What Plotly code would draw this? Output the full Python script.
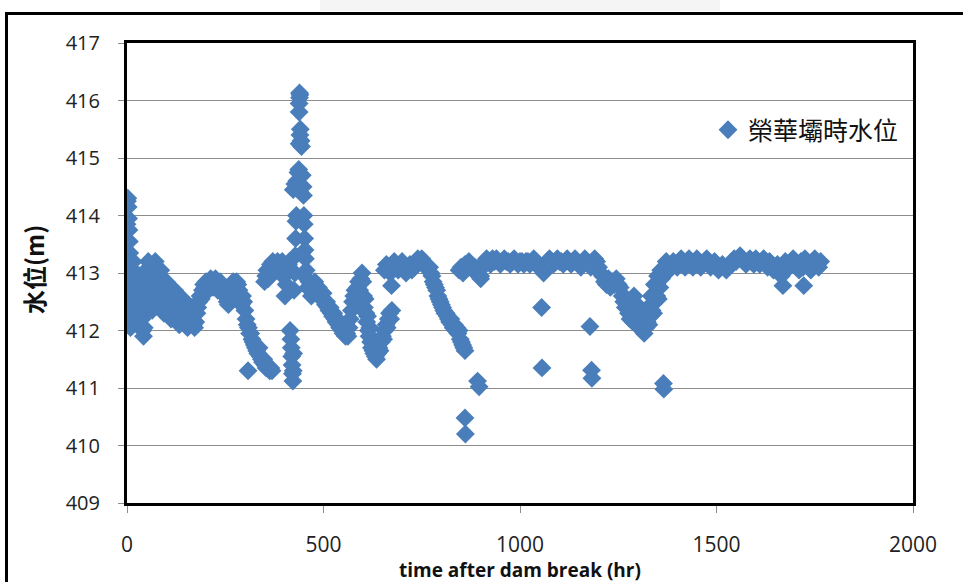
import plotly.graph_objects as go

# 榮華壩 water level after the dam break, read as (hour, level in m) groups
rise_t = [0, 1, 2, 3, 4, 5, 6, 7, 8, 9, 10, 11, 12, 13, 14, 15, 16, 18, 20, 22, 24, 26, 28, 30,
          32, 34, 36, 38, 40, 42, 44, 46, 48, 50, 52, 54, 56, 58, 60, 3, 6, 9]
rise_h = [413.85, 414.25, 414.3, 414.15, 413.95, 413.75, 413.55, 413.35, 413.1, 412.85, 412.6,
          412.4, 412.25, 412.45, 412.75, 413.0, 413.2, 412.9, 412.6, 412.35, 412.15, 412.3, 412.6,
          412.85, 412.95, 412.7, 412.45, 412.2, 412.0, 411.9, 412.05, 412.3, 412.55, 412.8, 413.05,
          413.2, 413.1, 412.9, 412.7, 412.8, 412.3, 412.05]

early_t = [62, 64, 66, 68, 70, 72, 74, 76, 78, 80, 82, 84, 86, 88, 90, 92, 94, 96, 98, 100, 103,
           106, 109, 112, 115, 118, 121, 124, 127, 130, 133, 136, 139, 142, 145, 148, 151, 154, 157,
           160, 163, 166, 169, 172, 175, 178]
early_h = [412.5, 412.35, 412.6, 412.9, 413.15, 413.2, 413.05, 412.85, 412.6, 412.45, 412.7, 412.95,
           413.05, 412.9, 412.65, 412.45, 412.3, 412.5, 412.75, 412.85, 412.7, 412.5, 412.3, 412.2,
           412.4, 412.6, 412.7, 412.55, 412.35, 412.2, 412.1, 412.3, 412.5, 412.55, 412.4, 412.2,
           412.1, 412.05, 412.15, 412.3, 412.4, 412.25, 412.1, 412.05, 412.15, 412.3]

shelf_t = [180, 183, 186, 189, 192, 195, 198, 201, 204, 207, 210, 213, 216, 219, 222, 225, 228, 231,
           234, 237, 240, 243, 246, 249, 252, 255, 258, 261, 264, 267, 270, 273, 276, 279, 282, 285,
           288, 291, 294, 297, 300]
shelf_h = [412.4, 412.5, 412.6, 412.55, 412.7, 412.8, 412.75, 412.85, 412.8, 412.7, 412.85, 412.9,
           412.8, 412.75, 412.85, 412.9, 412.8, 412.7, 412.8, 412.85, 412.75, 412.7, 412.65, 412.6,
           412.6, 412.5, 412.45, 412.55, 412.7, 412.75, 412.85, 412.8, 412.65, 412.85, 412.8, 412.7,
           412.55, 412.45, 412.6, 412.5, 412.35]

recess_t = [303, 306, 309, 312, 315, 318, 321, 324, 327, 330, 333, 336, 339, 342, 345, 348, 351,
            354, 357, 360, 363, 366, 369]
recess_h = [412.2, 412.1, 412.05, 411.95, 411.95, 411.85, 411.8, 411.75, 411.7, 411.65, 411.6,
            411.7, 411.55, 411.5, 411.45, 411.5, 411.4, 411.35, 411.4, 411.35, 411.3, 411.35, 411.3]

upper_t = [350, 353, 356, 359, 362, 365, 368, 371, 374, 377, 380, 383, 386, 389, 392, 395, 398,
           402, 405, 408, 411, 414]
upper_h = [412.85, 412.95, 413.05, 412.9, 413.0, 413.15, 413.1, 413.2, 413.15, 413.05, 413.15,
           413.2, 413.1, 413.0, 413.15, 413.2, 413.1, 412.6, 412.8, 413.0, 413.15, 413.2]

spike_t = [415, 417, 418, 419, 420, 421, 422, 423, 424, 425, 427, 428, 429, 430, 431, 423, 427,
           432, 435, 437, 438, 440, 441, 438, 438, 439, 439, 440, 443, 444, 446, 448, 449, 450,
           451, 452, 453, 454, 456, 458]
spike_h = [412.0, 411.85, 411.7, 411.55, 411.4, 411.25, 411.12, 411.3, 411.6, 412.7, 413.0, 413.3,
           413.6, 413.9, 414.0, 414.45, 414.55, 414.6, 414.75, 414.8, 415.25, 415.4, 415.5, 415.8,
           415.95, 416.05, 416.13, 416.1, 415.3, 415.2, 414.7, 414.5, 414.35, 414.0, 413.85,
           413.6, 413.4, 413.25, 413.05, 412.9]

decline_t = [460, 463, 466, 469, 472, 475, 478, 481, 484, 487, 490, 493, 496, 499, 502, 505, 508,
             511, 514, 517, 520, 523, 526, 529, 532, 535, 538, 541, 544, 547, 550, 553, 556, 559,
             562]
decline_h = [412.75, 412.85, 412.7, 412.6, 412.8, 412.75, 412.85, 412.7, 412.65, 412.75, 412.7,
             412.6, 412.55, 412.65, 412.5, 412.45, 412.5, 412.4, 412.35, 412.4, 412.3, 412.25,
             412.3, 412.2, 412.15, 412.2, 412.1, 412.05, 412.1, 412.0, 411.95, 412.0, 411.9,
             411.95, 411.9]

swing_t = [565, 568, 571, 574, 577, 580, 583, 586, 589, 592, 595, 598, 600, 602, 604, 606, 608,
           610, 612, 614, 616, 618, 620, 622, 624, 626, 628, 630, 632, 635, 638, 641, 644, 647,
           650, 653, 656, 659, 662, 665, 668, 671, 674]
swing_h = [412.05, 412.2, 412.35, 412.5, 412.6, 412.7, 412.55, 412.75, 412.85, 412.7, 412.9, 413.0,
           412.85, 412.6, 412.4, 412.55, 412.3, 412.15, 412.25, 412.0, 411.9, 412.05, 411.8, 411.7,
           411.85, 411.65, 411.6, 411.7, 411.55, 411.5, 411.6, 411.7, 411.65, 411.8, 411.9,
           411.85, 412.0, 412.1, 412.05, 412.2, 412.3, 412.2, 412.35]

mid_t = [655, 660, 665, 670, 675, 680, 685, 690, 695, 700, 705, 710, 715, 720, 725, 730, 735,
         740, 745, 750, 755, 760]
mid_h = [413.05, 413.15, 413.1, 413.0, 413.15, 413.2, 413.1, 413.05, 413.15, 413.2, 413.1, 413.0,
         413.1, 413.15, 413.05, 413.1, 413.2, 413.25, 413.2, 413.25, 413.15, 413.1]

fall_t = [770, 773, 776, 779, 782, 785, 788, 791, 794, 797, 800, 803, 806, 809, 812, 815, 818,
          821, 824, 827, 830, 833, 836, 839, 842, 845, 848, 851, 854, 857, 860]
fall_h = [413.1, 413.0, 412.95, 412.85, 412.8, 412.75, 412.7, 412.6, 412.55, 412.5, 412.45, 412.4,
          412.35, 412.3, 412.3, 412.25, 412.2, 412.15, 412.2, 412.1, 412.05, 412.1, 412.0, 412.05,
          411.95, 412.0, 411.85, 411.8, 411.75, 411.7, 411.65]

plateau1_t = [845, 850, 855, 860, 865, 870, 875, 880, 885, 890, 895, 900, 905, 910, 915, 920, 925,
              930, 935, 940, 945, 950, 955, 960, 965, 970, 975, 980, 985, 990, 995, 1000, 1005,
              1010, 1015, 1020, 1025, 1030, 1035, 1040, 1045, 1050, 1055, 1060, 1065, 1070, 1075,
              1080, 1085, 1090, 1095, 1100, 1105, 1110, 1115, 1120, 1125, 1130, 1135, 1140, 1145,
              1150, 1155, 1160, 1165, 1170, 1175, 1180, 1185, 1190, 1195, 1200, 1205, 1210, 1215,
              1220, 1225, 1230, 1235, 1240, 1245, 1250]
plateau1_h = [413.05, 413.1, 413.0, 413.15, 413.1, 413.2, 413.15, 413.05, 413.1, 413.0, 413.05,
              412.95, 413.1, 413.2, 413.25, 413.2, 413.15, 413.25, 413.2, 413.25, 413.2, 413.15,
              413.2, 413.25, 413.2, 413.2, 413.15, 413.2, 413.25, 413.2, 413.15, 413.2, 413.2,
              413.15, 413.2, 413.2, 413.15, 413.2, 413.25, 413.2, 413.15, 413.1, 413.05, 413.0,
              413.1, 413.2, 413.25, 413.2, 413.15, 413.2, 413.25, 413.2, 413.2, 413.15, 413.2,
              413.25, 413.2, 413.15, 413.2, 413.25, 413.2, 413.15, 413.1, 413.2, 413.25, 413.2,
              413.15, 413.1, 413.2, 413.25, 413.2, 413.1, 413.0, 412.95, 412.85, 412.8, 412.9,
              412.75, 412.85, 412.8, 412.9, 412.8]

trough_t = [1255, 1260, 1264, 1268, 1272, 1276, 1280, 1284, 1288, 1292, 1296, 1300, 1304, 1308,
            1312, 1316, 1320, 1324, 1328, 1332, 1336, 1340, 1344, 1348, 1352, 1356, 1360, 1364,
            1368, 1372, 1290, 1298, 1306, 1326, 1334, 1342, 1350, 1358]
trough_h = [412.75, 412.6, 412.5, 412.4, 412.55, 412.3, 412.2, 412.4, 412.15, 412.3, 412.1, 412.2,
            412.05, 412.15, 412.0, 411.95, 412.05, 412.15, 412.1, 412.25, 412.35, 412.3, 412.5,
            412.6, 412.55, 412.75, 412.9, 413.0, 413.1, 413.2, 412.6, 412.45, 412.35, 412.4,
            412.6, 412.8, 412.95, 413.05]

plateau2_t = [1375, 1380, 1385, 1390, 1395, 1400, 1405, 1410, 1415, 1420, 1425, 1430, 1435, 1440,
              1445, 1450, 1455, 1460, 1465, 1470, 1475, 1480, 1485, 1490, 1495, 1500, 1505, 1510,
              1515, 1520, 1525, 1530, 1535, 1540, 1545, 1550, 1555, 1560, 1565, 1570, 1575, 1580,
              1585, 1590, 1595, 1600, 1605, 1610, 1615, 1620, 1625, 1630, 1635, 1640, 1645, 1650,
              1655, 1660, 1665, 1670, 1675, 1680, 1685, 1690, 1695, 1700, 1705, 1710, 1715, 1720,
              1725, 1730, 1735, 1740, 1745, 1750, 1755, 1760, 1765]
plateau2_h = [413.15, 413.05, 413.1, 413.2, 413.15, 413.1, 413.2, 413.25, 413.15, 413.1, 413.2,
              413.25, 413.2, 413.1, 413.15, 413.25, 413.2, 413.1, 413.15, 413.2, 413.25, 413.2,
              413.1, 413.15, 413.2, 413.15, 413.05, 413.1, 413.15, 413.1, 413.05, 413.1, 413.15,
              413.2, 413.25, 413.2, 413.25, 413.3, 413.25, 413.2, 413.15, 413.2, 413.25, 413.2,
              413.15, 413.25, 413.2, 413.15, 413.2, 413.25, 413.2, 413.1, 413.2, 413.15, 413.05,
              413.1, 413.15, 413.05, 412.95, 413.1, 413.2, 413.15, 413.1, 413.2, 413.25, 413.15,
              413.1, 413.05, 413.2, 413.1, 413.25, 413.2, 413.1, 413.05, 413.15, 413.25, 413.2,
              413.1, 413.2]

outlier_t = [308, 673, 860, 861, 892, 896, 900, 1055, 1056, 1178, 1182, 1183, 1365, 1366, 1669, 1722]
outlier_h = [411.3, 412.78, 410.48, 410.2, 411.12, 411.02, 412.9, 412.4, 411.35, 412.07, 411.31,
             411.17, 411.08, 410.98, 412.78, 412.78]

groups_t = [rise_t, early_t, shelf_t, recess_t, upper_t, spike_t, decline_t, swing_t, mid_t,
            fall_t, plateau1_t, trough_t, plateau2_t, outlier_t]
groups_h = [rise_h, early_h, shelf_h, recess_h, upper_h, spike_h, decline_h, swing_h, mid_h,
            fall_h, plateau1_h, trough_h, plateau2_h, outlier_h]

hours = [t for g in groups_t for t in g]
levels = [h for g in groups_h for h in g]

x_ticks = [0, 500, 1000, 1500, 2000]
y_ticks = [409, 410, 411, 412, 413, 414, 415, 416, 417]

W, H = 963, 582
L, R, T, B = 127, 50, 43, 79
PW, PH = W - L - R, H - T - B


def px(x):
    return (x - L) / PW


def py(y):
    return (H - B - y) / PH


BLUE = "#4a7ebb"
GRID = "#8c8c8c"

fig = go.Figure()
fig.add_trace(go.Scatter(
    x=hours, y=levels, mode="markers", name="榮華壩時水位",
    marker=dict(symbol="diamond", size=14.5, color=BLUE, line=dict(width=0)),
))

fig.update_layout(
    width=W, height=H,
    margin=dict(l=L, r=R, t=T, b=B),
    paper_bgcolor="white", plot_bgcolor="white",
    showlegend=True,
    legend=dict(
        x=px(708), y=py(130), xanchor="left", yanchor="middle",
        bgcolor="rgba(0,0,0,0)", borderwidth=0,
        font=dict(family="Noto Sans CJK TC", size=25, color="#111"),
    ),
    xaxis=dict(
        range=[0, 2000], tickvals=x_ticks, ticktext=[str(v) for v in x_ticks],
        showgrid=False, zeroline=False,
        showline=True, linewidth=3, linecolor="black", mirror=True,
        ticks="outside", ticklen=7, tickwidth=1, tickcolor=GRID,
        ticklabelstandoff=14,
        tickfont=dict(family="Open Sans", size=21, color="#222"),
    ),
    yaxis=dict(
        range=[409, 417], tickvals=y_ticks, ticktext=[str(v) for v in y_ticks],
        showgrid=True, gridcolor=GRID, gridwidth=1, zeroline=False,
        showline=True, linewidth=3, linecolor="black", mirror=True,
        ticks="outside", ticklen=6, tickwidth=1, tickcolor=GRID,
        ticklabelstandoff=14,
        tickfont=dict(family="Open Sans", size=20, color="#222"),
    ),
    shapes=[
        # outer chart frame, continuing past the right and bottom edges
        dict(type="rect", xref="paper", yref="paper",
             x0=px(6.5), x1=px(1000), y0=py(620), y1=py(13.5),
             line=dict(color="black", width=3), fillcolor="rgba(0,0,0,0)", layer="above"),
        # faint banner strip above the frame
        dict(type="rect", xref="paper", yref="paper",
             x0=px(320), x1=px(720), y0=py(11), y1=py(-2),
             line=dict(width=0), fillcolor="#f5f5f5", layer="below"),
    ],
    annotations=[
        dict(text="<b>time after dam break (hr)</b>", xref="paper", yref="paper",
             x=px(520), y=py(570), xanchor="center", yanchor="middle", showarrow=False,
             font=dict(family="Open Sans", size=19, color="#111")),
        dict(text="<b>水位(m)</b>", xref="paper", yref="paper",
             x=px(33), y=py(270), xanchor="center", yanchor="middle", showarrow=False,
             textangle=-90,
             font=dict(family="Noto Sans CJK TC", size=24, color="#111")),
    ],
)

fig.write_html("out.html")
